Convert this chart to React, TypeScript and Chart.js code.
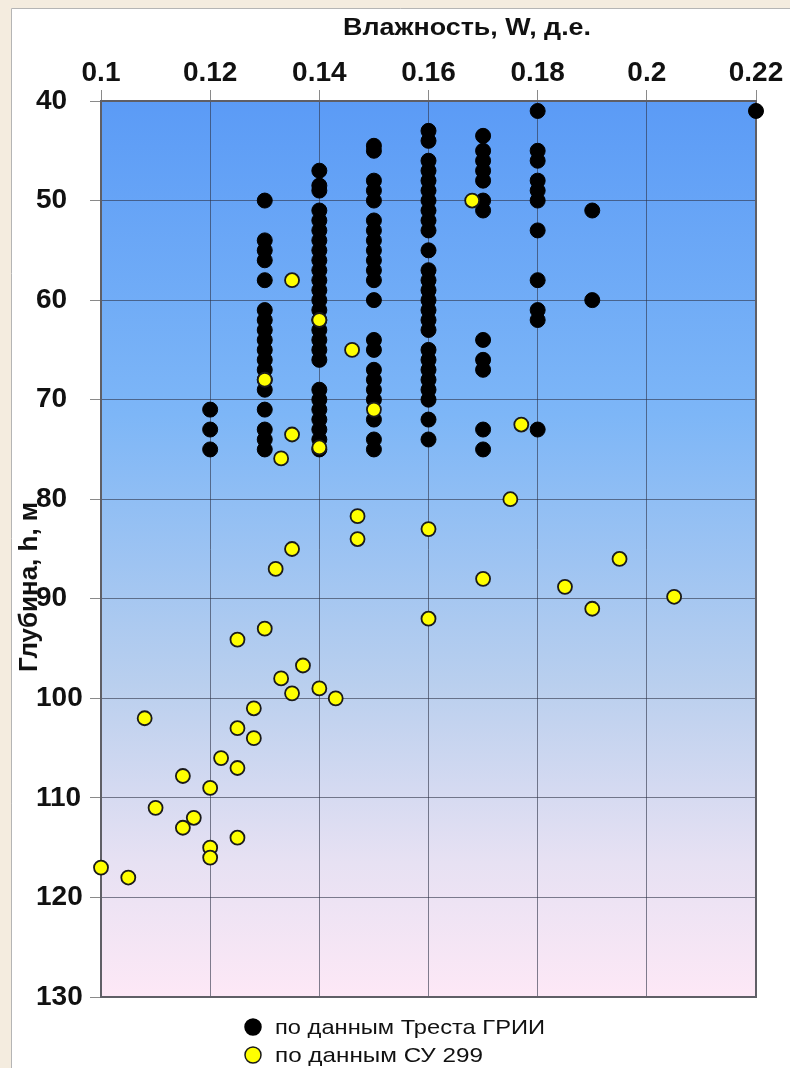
import React, { useEffect, useRef } from "react";
import { Chart, registerables } from "chart.js";

Chart.register(...registerables);

// ---- data ----
const xTickLabels = ["0.1", "0.12", "0.14", "0.16", "0.18", "0.2", "0.22"];
const yTickLabels = ["40", "50", "60", "70", "80", "90", "100", "110", "120", "130"];

const xTitle = "Влажность, W, д.е.";
const yTitle = "Глубина, h, м";
const seriesNames = ["по данным Треста ГРИИ", "по данным СУ 299"];

// Trest GRII: moisture columns and depths measured at each column
const trestW = [0.12, 0.13, 0.14, 0.15, 0.16, 0.17, 0.18, 0.19, 0.22];
const trestDepths: number[][] = [
  [71, 73, 75],
  [50, 54, 55, 56, 58, 61, 62, 63, 64, 65, 66, 67, 68, 69, 71, 73, 74, 75],
  [47, 48.5, 49, 51, 52, 53, 54, 55, 56, 57, 58, 59, 60, 61, 62, 63, 64, 65, 66, 69, 70, 71, 72, 73, 74, 75],
  [44.5, 45, 48, 49, 50, 52, 53, 54, 55, 56, 57, 58, 60, 64, 65, 67, 68, 69, 70, 72, 74, 75],
  [43, 44, 46, 47, 48, 49, 50, 51, 52, 53, 55, 57, 58, 59, 60, 61, 62, 63, 65, 66, 67, 68, 69, 70, 72, 74],
  [43.5, 45, 46, 47, 48, 50, 51, 64, 66, 67, 73, 75],
  [41, 45, 46, 48, 49, 50, 53, 58, 61, 62, 73],
  [51, 60],
  [41],
];

// SU 299
const su299W = [
  0.135, 0.14, 0.146, 0.13, 0.15, 0.168, 0.177, 0.135, 0.14, 0.133,
  0.175, 0.147, 0.16, 0.147, 0.135, 0.195, 0.132, 0.17, 0.185, 0.205,
  0.19, 0.16, 0.13, 0.125, 0.137, 0.133, 0.14, 0.135, 0.143, 0.128,
  0.108, 0.125, 0.128, 0.122, 0.125, 0.115, 0.12, 0.11, 0.117, 0.115,
  0.125, 0.12, 0.12, 0.1, 0.105,
];
const su299H = [
  58, 62, 65, 68, 71, 50, 72.5, 73.5, 74.8, 75.9,
  80, 81.7, 83, 84, 85, 86, 87, 88, 88.8, 89.8,
  91, 92, 93, 94.1, 96.7, 98, 99, 99.5, 100, 101,
  102, 103, 104, 106, 107, 107.8, 109, 111, 112, 113,
  114, 115, 116, 117, 118,
];

const FONT = "'Liberation Sans', Arial, sans-serif";

function fitText(ctx: CanvasRenderingContext2D, text: string, x: number, y: number, w: number, font: string) {
  ctx.save();
  ctx.font = font;
  ctx.textAlign = "left";
  ctx.textBaseline = "alphabetic";
  const m = ctx.measureText(text).width;
  ctx.translate(x, y);
  ctx.scale(w / m, 1);
  ctx.fillText(text, 0, 0);
  ctx.restore();
}

const decorPlugin = {
  id: "decor",
  beforeDraw(chart: any) {
    const { ctx, chartArea: a, width, height } = chart;
    ctx.save();
    ctx.fillStyle = "#f4ecdf";
    ctx.fillRect(0, 0, width, height);
    ctx.fillStyle = "#ffffff";
    ctx.fillRect(11, 8, width - 11, height - 8);
    ctx.strokeStyle = "#b5b5b5";
    ctx.lineWidth = 1;
    ctx.beginPath();
    ctx.moveTo(11.5, height);
    ctx.lineTo(11.5, 8.5);
    ctx.lineTo(width, 8.5);
    ctx.stroke();
    const g = ctx.createLinearGradient(0, a.top, 0, a.bottom);
    g.addColorStop(0, "#5b9bf6");
    g.addColorStop(0.35, "#7db6f7");
    g.addColorStop(0.65, "#b9cfee");
    g.addColorStop(0.85, "#e7e1f3");
    g.addColorStop(1, "#fde8f6");
    ctx.fillStyle = g;
    ctx.fillRect(a.left, a.top, a.right - a.left, a.bottom - a.top);
    ctx.restore();
  },
  beforeDatasetsDraw(chart: any) {
    const { ctx, chartArea: a } = chart;
    ctx.save();
    ctx.strokeStyle = "#5f5f66";
    ctx.lineWidth = 2;
    ctx.strokeRect(a.left, a.top, a.right - a.left, a.bottom - a.top);
    ctx.restore();
  },
  afterDraw(chart: any) {
    const { ctx } = chart;
    ctx.save();
    ctx.fillStyle = "#111";
    fitText(ctx, xTitle, 343, 35, 248, `bold 24px ${FONT}`);
    ctx.save();
    ctx.translate(37, 672);
    ctx.rotate(-Math.PI / 2);
    fitText(ctx, yTitle, 0, 0, 170, `bold 26px ${FONT}`);
    ctx.restore();
    const rows = [
      { y: 1027, fill: "#000000", stroke: "#000000" },
      { y: 1055, fill: "#ffff00", stroke: "#1a1a1a" },
    ];
    const widths = [270, 208];
    rows.forEach((r, i) => {
      ctx.beginPath();
      ctx.arc(253, r.y, 8, 0, Math.PI * 2);
      ctx.fillStyle = r.fill;
      ctx.fill();
      ctx.lineWidth = 1.5;
      ctx.strokeStyle = r.stroke;
      ctx.stroke();
      ctx.fillStyle = "#111";
      fitText(ctx, seriesNames[i], 275, r.y + 7, widths[i], `21px ${FONT}`);
    });
    ctx.restore();
  },
};

export default function App() {
  const ref = useRef<HTMLCanvasElement>(null);
  useEffect(() => {
    document.body.style.margin = "0";
    const trestData: { x: number; y: number }[] = [];
    trestW.forEach((w, i) => trestDepths[i].forEach((h) => trestData.push({ x: w, y: h })));
    const suData = su299W.map((w, i) => ({ x: w, y: su299H[i] }));
    const chart = new Chart(ref.current!, {
      type: "scatter",
      data: {
        datasets: [
          {
            label: seriesNames[0],
            data: trestData,
            backgroundColor: "#000000",
            borderColor: "#000000",
            borderWidth: 1,
            pointRadius: 7.5,
            order: 2,
          },
          {
            label: seriesNames[1],
            data: suData,
            backgroundColor: "#ffff00",
            borderColor: "#1a1a1a",
            borderWidth: 1.8,
            pointRadius: 7,
            order: 1,
          },
        ],
      },
      options: {
        animation: false,
        responsive: false,
        devicePixelRatio: 1,
        clip: false as any,
        layout: { padding: { left: 36, right: 34, top: 0, bottom: 71 } },
        plugins: { legend: { display: false }, tooltip: { enabled: false } },
        scales: {
          x: {
            type: "linear",
            position: "top",
            min: 0.1,
            max: 0.22,
            ticks: {
              stepSize: 0.02,
              padding: 0,
              color: "#111",
              font: { family: FONT, size: 28, weight: "bold" },
              callback: (v: any) => {
                const i = Math.round((Number(v) - 0.1) / 0.02);
                return xTickLabels[i] ?? "";
              },
            },
            grid: { color: "rgba(45,50,70,0.6)", tickColor: "#8a8a8a", tickLength: 11, lineWidth: 1 },
            border: { color: "#5f5f66", width: 2 },
            afterFit: (s: any) => {
              s.height = 101;
            },
          },
          y: {
            type: "linear",
            reverse: true,
            min: 40,
            max: 130,
            ticks: {
              stepSize: 10,
              crossAlign: "far",
              color: "#111",
              font: { family: FONT, size: 28, weight: "bold" },
              callback: (v: any) => {
                const i = Math.round((Number(v) - 40) / 10);
                return yTickLabels[i] ?? "";
              },
            },
            grid: { color: "rgba(45,50,70,0.6)", tickColor: "#8a8a8a", tickLength: 11, lineWidth: 1 },
            border: { color: "#5f5f66", width: 2 },
            afterFit: (s: any) => {
              s.width = 65;
            },
          },
        },
      },
      plugins: [decorPlugin],
    });
    return () => chart.destroy();
  }, []);
  return <canvas ref={ref} width={790} height={1068} style={{ display: "block" }} />;
}
